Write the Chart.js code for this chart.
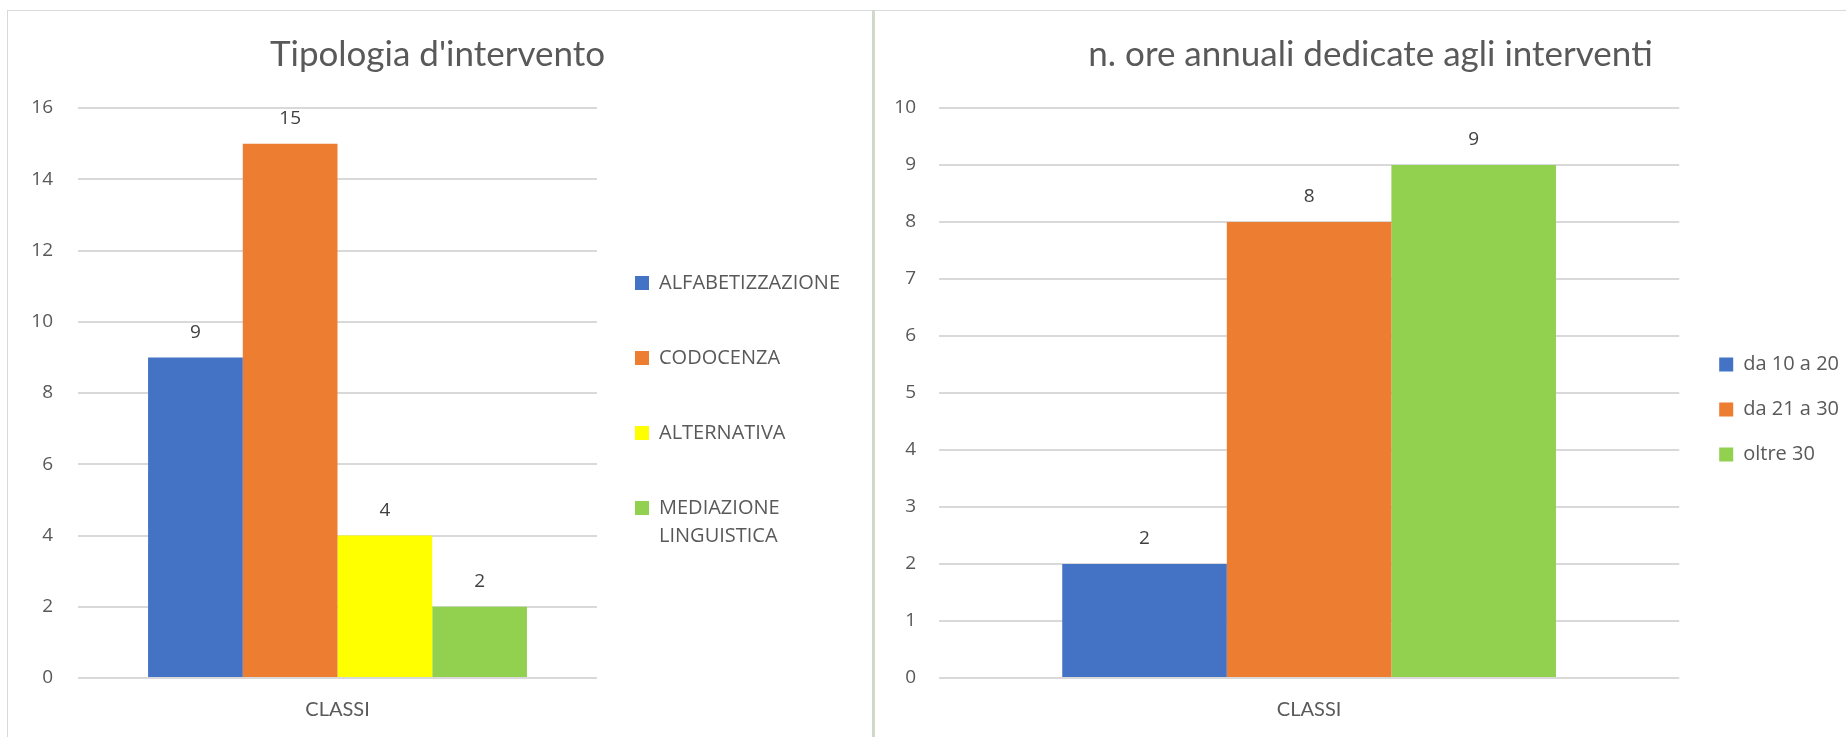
<!DOCTYPE html>
<html>
<head>
<meta charset="utf-8">
<script src="https://cdn.jsdelivr.net/npm/chart.js@4.4.1/dist/chart.umd.min.js"></script>
<style>
  html, body { margin: 0; padding: 0; background: #fff; overflow: hidden; }
  body { width: 1846px; height: 737px; position: relative; }
  .panel { position: absolute; top: 10px; height: 780px; border-top: 1px solid #d9d9d9; }
  #p1 { left: 7px; width: 864px; border-left: 1px solid #d9d9d9; border-right: 1px solid #d4d4d4; }
  #p2 { left: 873px; width: 990px; border-left: 2px solid #cfdcc4; }
  .box { position: absolute; left: 0; top: 0; height: 750px; }
  #p1 .box { width: 864px; }
  #p2 .box { width: 971px; }
</style>
</head>
<body>
<div class="panel" id="p1"><div class="box"><canvas id="chartTipologia"></canvas></div></div>
<div class="panel" id="p2"><div class="box"><canvas id="chartOre"></canvas></div></div>
<script>
// dati
const categories = ['CLASSI'];

const tipologiaLabels = ['ALFABETIZZAZIONE', 'CODOCENZA', 'ALTERNATIVA', ['MEDIAZIONE', 'LINGUISTICA']];
const tipologiaValues = [9, 15, 4, 2];
const tipologiaColors = ['#4472C4', '#ED7D31', '#FFFF00', '#92D050'];
const tipologiaTicks = { max: 16, step: 2 };

const oreLabels = ['da 10 a 20', 'da 21 a 30', 'oltre 30'];
const oreValues = [2, 8, 9];
const oreColors = ['#4472C4', '#ED7D31', '#92D050'];
const oreTicks = { max: 10, step: 1 };

const textGrey = '#595959';
const gridGrey = '#d9d9d9';

// numeri sopra le barre
const barValues = {
    id: 'barValues',
    afterDatasetsDraw(chart) {
        const ctx = chart.ctx;
        ctx.save();
        ctx.font = '19px "Open Sans"';
        ctx.fillStyle = '#404040';
        ctx.textAlign = 'center';
        ctx.textBaseline = 'middle';
        chart.data.datasets.forEach((ds, i) => {
            chart.getDatasetMeta(i).data.forEach((bar, j) => {
                ctx.fillText(ds.data[j], bar.x, bar.y - 25);
            });
        });
        ctx.restore();
    }
};

// sposta legenda e titolo senza toccare l'area del grafico
const boxNudge = {
    id: 'boxNudge',
    afterLayout(chart, args, opts) {
        const lg = chart.legend;
        if (lg) {
            lg.left += opts.dx || 0;
            lg.right += opts.dx || 0;
            lg.top += opts.dy || 0;
            lg.bottom += opts.dy || 0;
        }
        const tb = chart.titleBlock;
        if (tb) {
            tb.left += opts.titleDx || 0;
            tb.right += opts.titleDx || 0;
        }
    }
};

function makeChart(id, labels, values, colors, ticks, cfg) {
    const datasets = labels.map((lab, i) => ({
        label: lab,
        data: [values[i]],
        backgroundColor: colors[i],
        borderWidth: 0,
        categoryPercentage: cfg.catPct,
        barPercentage: 1
    }));

    return new Chart(document.getElementById(id).getContext('2d'), {
        type: 'bar',
        data: { labels: categories, datasets: datasets },
        plugins: [barValues, boxNudge],
        options: {
            responsive: true,
            maintainAspectRatio: false,
            animation: false,
            layout: { padding: { left: 0, right: cfg.padRight, top: 0, bottom: 19 } },
            plugins: {
                title: {
                    display: true,
                    text: cfg.title,
                    color: textGrey,
                    font: { family: 'Lato', size: 35, weight: 'normal', lineHeight: 1.2 },
                    padding: { top: 23, bottom: 32 }
                },
                legend: {
                    position: 'right',
                    maxWidth: 500,
                    labels: {
                        boxWidth: 14,
                        boxHeight: 14,
                        padding: cfg.legendPad,
                        color: textGrey,
                        font: { family: 'Open Sans', size: 20, lineHeight: 1.4 }
                    }
                },
                boxNudge: { dx: cfg.dx, dy: cfg.dy, titleDx: cfg.titleDx },
                tooltip: { enabled: false }
            },
            scales: {
                x: {
                    grid: { display: false, drawTicks: false },
                    border: { display: false },
                    ticks: {
                        color: textGrey,
                        padding: 20,
                        font: { family: 'Lato', size: 20 }
                    }
                },
                y: {
                    min: 0,
                    max: ticks.max,
                    afterFit: s => { s.width = cfg.yWidth; },
                    grid: { color: gridGrey, lineWidth: 2, drawTicks: false },
                    border: { display: false },
                    ticks: {
                        stepSize: ticks.step,
                        color: textGrey,
                        padding: cfg.tickPad,
                        font: { family: 'Open Sans', size: 19 }
                    }
                }
            }
        }
    });
}

makeChart('chartTipologia', tipologiaLabels, tipologiaValues, tipologiaColors, tipologiaTicks, {
    title: "Tipologia d'intervento",
    catPct: 0.73,
    padRight: 5,
    legendPad: 55,
    dx: -17,
    dy: 37,
    titleDx: 0,
    yWidth: 70,
    tickPad: 25
});

makeChart('chartOre', oreLabels, oreValues, oreColors, oreTicks, {
    title: 'n. ore annuali dedicate agli interventi',
    catPct: 0.667,
    padRight: 12,
    legendPad: 25,
    dx: 15,
    dy: 33,
    titleDx: 16,
    yWidth: 64,
    tickPad: 23
});
</script>
</body>
</html>
